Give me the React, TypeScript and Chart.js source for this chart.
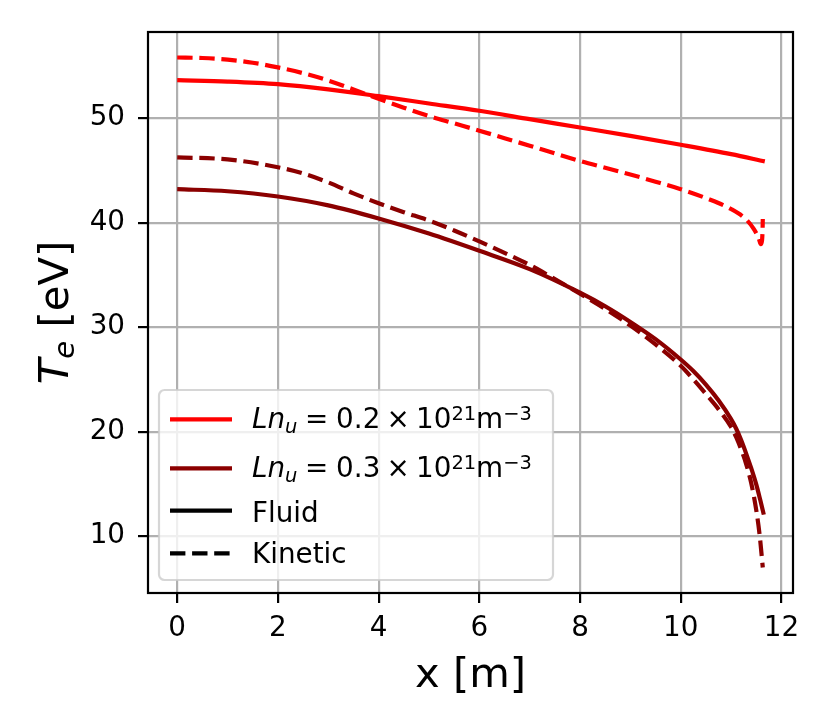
import React, { useEffect, useRef } from "react";
import { Chart, registerables } from "chart.js";

Chart.register(...registerables);

// ---- data ----
const xFluid02 = [0, 1, 2, 3, 4, 5, 6, 7, 8, 9, 10, 11, 11.67];
const yFluid02 = [53.63, 53.5, 53.25, 52.75, 52.1, 51.4, 50.7, 49.9, 49.1, 48.3, 47.45, 46.55, 45.86];

const xKinetic02 = [0, 0.5, 1, 1.5, 2, 2.5, 3, 3.5, 4, 4.5, 5, 5.5, 6, 6.5, 7, 7.5, 8, 8.5, 9, 9.5, 10, 10.5, 11, 11.3, 11.45, 11.55, 11.59, 11.615, 11.625, 11.63];
const yKinetic02 = [55.8, 55.75, 55.6, 55.3, 54.85, 54.3, 53.6, 52.75, 51.85, 51.0, 50.2, 49.5, 48.8, 48.08, 47.36, 46.62, 45.9, 45.25, 44.6, 43.92, 43.2, 42.35, 41.3, 40.3, 39.4, 38.5, 37.95, 38.3, 39.2, 40.35];

const xFluid03 = [0, 1, 2, 3, 4, 5, 6, 7, 8, 8.5, 9, 9.5, 10, 10.25, 10.5, 10.75, 11, 11.1, 11.2, 11.3, 11.4, 11.5, 11.58, 11.65];
const yFluid03 = [43.2, 43.0, 42.5, 41.65, 40.4, 38.95, 37.3, 35.55, 33.3, 32.0, 30.5, 28.85, 26.9, 25.8, 24.5, 23.0, 21.2, 20.3, 19.2, 17.9, 16.5, 14.95, 13.45, 12.06];

const xKinetic03 = [0, 1, 2, 2.5, 3, 3.5, 4, 4.5, 5, 5.5, 6, 6.5, 7, 7.5, 8, 8.5, 9, 9.5, 10, 10.25, 10.5, 10.75, 11, 11.1, 11.2, 11.3, 11.4, 11.5, 11.57, 11.63];
const yKinetic03 = [46.24, 46.05, 45.3, 44.7, 43.85, 42.8, 41.85, 41.0, 40.2, 39.25, 38.2, 37.1, 35.95, 34.6, 33.2, 31.75, 30.15, 28.35, 26.3, 25.0, 23.6, 22.15, 20.45, 19.5, 18.3, 16.9, 15.08, 12.5, 10.0, 7.0];

const xTicks = [0, 2, 4, 6, 8, 10, 12];
const yTicks = [10, 20, 30, 40, 50];

const legendDensities = ["0.2", "0.3"];
const legendStyles = ["Fluid", "Kinetic"];

const RED = "#ff0000";
const DARKRED = "#8b0000";
const FONT = "'DejaVu Sans', 'Liberation Sans', sans-serif";
const LW = 4.2;
const DASH = [15.4, 6.7];

type Seg = { t: string; italic?: boolean; scale?: number; dy?: number; gapBefore?: number };

function drawSegs(ctx: CanvasRenderingContext2D, segs: Seg[], x: number, y: number, size: number, measureOnly = false) {
  let cx = x;
  for (const s of segs) {
    cx += s.gapBefore || 0;
    const fs = size * (s.scale || 1);
    ctx.font = `${s.italic ? "italic " : ""}${fs}px ${FONT}`;
    if (!measureOnly) ctx.fillText(s.t, cx, y + (s.dy || 0));
    cx += ctx.measureText(s.t).width;
  }
  return cx - x;
}

const decorPlugin = {
  id: "decor",
  afterDatasetsDraw(chart: any) {
    const { ctx, chartArea: a } = chart;
    ctx.save();
    ctx.strokeStyle = "#000";
    ctx.lineWidth = 2.2;
    ctx.strokeRect(a.left, a.top, a.right - a.left, a.bottom - a.top);
    ctx.restore();
  },
  afterDraw(chart: any) {
    const { ctx, chartArea: a } = chart;
    ctx.save();
    ctx.fillStyle = "#000";
    ctx.textBaseline = "alphabetic";

    // x axis title
    ctx.font = `41.7px ${FONT}`;
    ctx.textAlign = "center";
    ctx.fillText("x [m]", (a.left + a.right) / 2, 686.5);

    // y axis title: T_e [eV]
    ctx.textAlign = "left";
    const ySegs: Seg[] = [
      { t: "T", italic: true },
      { t: "e", italic: true, scale: 0.7, dy: 5.7 },
      { t: " [eV]" },
    ];
    const w = drawSegs(ctx, ySegs, 0, 0, 41.7, true);
    ctx.save();
    ctx.translate(67.8, (a.top + a.bottom) / 2);
    ctx.rotate(-Math.PI / 2);
    drawSegs(ctx, ySegs, -w / 2, 0, 41.7);
    ctx.restore();

    // legend
    const bx = 159, by = 390, bw = 394, bh = 190;
    ctx.beginPath();
    (ctx as any).roundRect(bx, by, bw, bh, 5.6);
    ctx.fillStyle = "rgba(255,255,255,0.8)";
    ctx.fill();
    ctx.strokeStyle = "rgba(204,204,204,0.8)";
    ctx.lineWidth = 2.2;
    ctx.stroke();

    const rows = [
      { y: 419.3, base: 428, color: RED, dash: false },
      { y: 468.3, base: 477, color: DARKRED, dash: false },
      { y: 510.7, base: 521.7, color: "#000", dash: false },
      { y: 553.3, base: 563, color: "#000", dash: true },
    ];
    rows.forEach((r, i) => {
      ctx.beginPath();
      ctx.setLineDash(r.dash ? DASH : []);
      ctx.strokeStyle = r.color;
      ctx.lineWidth = LW;
      ctx.moveTo(170, r.y);
      ctx.lineTo(232, r.y);
      ctx.stroke();
      ctx.setLineDash([]);
      ctx.fillStyle = "#000";
      const tx = 252;
      if (i < 2) {
        const segs: Seg[] = [
          { t: "L", italic: true },
          { t: "n", italic: true },
          { t: "u", italic: true, scale: 0.7, dy: 4.5 },
          { t: "=", gapBefore: 7.7 },
          { t: legendDensities[i], gapBefore: 7.7 },
          { t: "\u00d7", gapBefore: 6.2 },
          { t: "10", gapBefore: 6.2 },
          { t: "21", scale: 0.7, dy: -8 },
          { t: "m" },
          { t: "\u22123", scale: 0.7, dy: -8 },
        ];
        drawSegs(ctx, segs, tx, r.base, 27.8);
      } else {
        ctx.font = `27.8px ${FONT}`;
        ctx.fillText(legendStyles[i - 2], tx, r.base);
      }
    });
    ctx.restore();
  },
};

export default function App() {
  const ref = useRef<HTMLCanvasElement>(null);
  useEffect(() => {
    if (!ref.current) return;
    const pts = (xs: number[], ys: number[]) => xs.map((x, i) => ({ x, y: ys[i] }));
    const base = {
      borderWidth: LW,
      pointRadius: 0,
      fill: false,
      cubicInterpolationMode: "monotone" as const,
    };
    const chart = new Chart(ref.current, {
      type: "line",
      data: {
        datasets: [
          { ...base, label: "Fluid 0.2", data: pts(xFluid02, yFluid02), borderColor: RED },
          { ...base, label: "Kinetic 0.2", data: pts(xKinetic02, yKinetic02), borderColor: RED, borderDash: DASH },
          { ...base, label: "Fluid 0.3", data: pts(xFluid03, yFluid03), borderColor: DARKRED },
          { ...base, label: "Kinetic 0.3", data: pts(xKinetic03, yKinetic03), borderColor: DARKRED, borderDash: DASH },
        ],
      },
      options: {
        animation: false,
        responsive: true,
        maintainAspectRatio: false,
        layout: { padding: { left: 0, top: 32, right: 37, bottom: 0 } },
        plugins: { legend: { display: false }, tooltip: { enabled: false } },
        scales: {
          x: {
            type: "linear",
            min: -0.58,
            max: 12.23,
            afterBuildTicks: (s: any) => {
              s.ticks = xTicks.map((v) => ({ value: v }));
            },
            afterFit: (s: any) => {
              s.height = 134;
            },
            grid: { color: "#b0b0b0", lineWidth: 2.2, tickColor: "#000", tickWidth: 2.2, tickLength: 10 },
            border: { display: false },
            ticks: { font: { family: FONT, size: 27.8 }, color: "#000", padding: 9, maxRotation: 0, autoSkip: false },
          },
          y: {
            type: "linear",
            min: 4.56,
            max: 58.24,
            afterBuildTicks: (s: any) => {
              s.ticks = yTicks.map((v) => ({ value: v }));
            },
            afterFit: (s: any) => {
              s.width = 148;
            },
            grid: { color: "#b0b0b0", lineWidth: 2.2, tickColor: "#000", tickWidth: 2.2, tickLength: 10 },
            border: { display: false },
            ticks: { font: { family: FONT, size: 27.8 }, color: "#000", padding: 13, autoSkip: false },
          },
        },
      },
      plugins: [decorPlugin],
    });
    return () => chart.destroy();
  }, []);
  return (
    <div style={{ position: "fixed", left: 0, top: 0, width: 830, height: 727, background: "#fff" }}>
      <canvas ref={ref} />
    </div>
  );
}
